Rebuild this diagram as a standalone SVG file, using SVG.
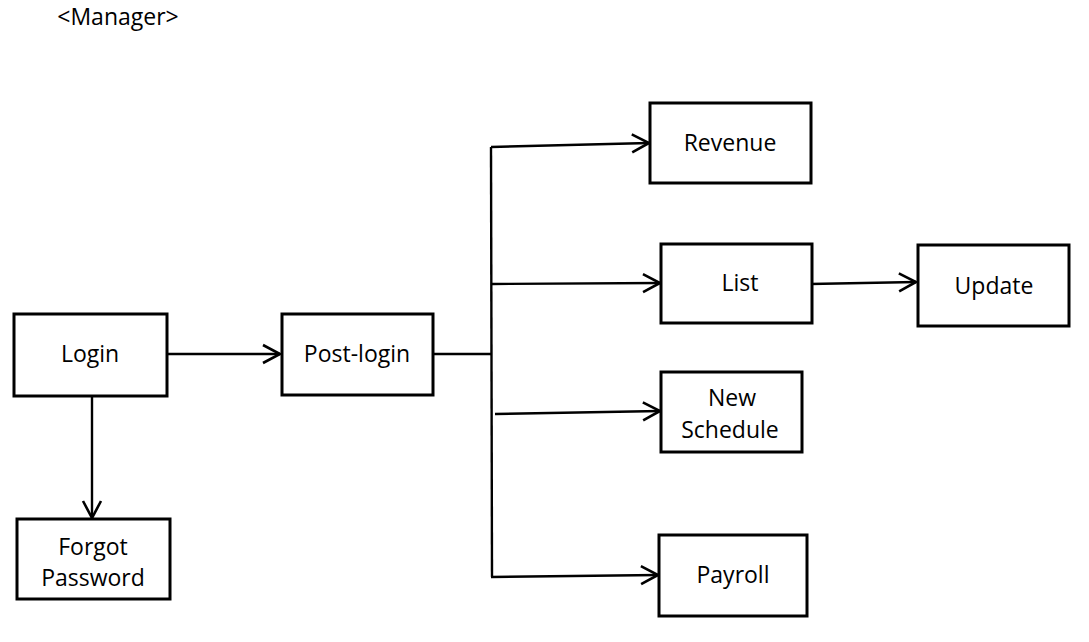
<svg xmlns="http://www.w3.org/2000/svg" width="1089" height="642" viewBox="0 0 1089 642">
<style>
.box{fill:#fff;stroke:#000;stroke-width:3}
.lbl{font-family:"Open Sans","Noto Sans","Liberation Sans",sans-serif;font-size:23px;fill:#000;text-anchor:middle}
.con{fill:none;stroke:#000;stroke-width:2.4}
.arr{marker-end:url(#open)}
</style>
<defs>
<marker id="open" markerUnits="userSpaceOnUse" markerWidth="24" markerHeight="24" viewBox="0 0 24 24" refX="20" refY="12" orient="auto">
<path d="M3,3 L20,12 L3,21" fill="none" stroke="#000" stroke-width="2.6"/>
</marker>
</defs>
<text class="lbl" x="118" y="25">&lt;Manager&gt;</text>
<g id="connectors">
<line class="con arr" x1="167" y1="354" x2="280" y2="354"/>
<line class="con arr" x1="92" y1="396" x2="92" y2="518"/>
<polyline class="con" points="433,354 491,354"/>
<line class="con" x1="491" y1="147" x2="492" y2="577"/>
<line class="con arr" x1="491" y1="147" x2="649" y2="143"/>
<line class="con arr" x1="492" y1="284" x2="660" y2="283"/>
<line class="con arr" x1="495" y1="414" x2="660" y2="411"/>
<line class="con arr" x1="491" y1="577" x2="658" y2="575"/>
<line class="con arr" x1="810" y1="284" x2="916" y2="282"/>
</g>
<g id="login"><rect class="box" x="14" y="314" width="153" height="82"/><text class="lbl" x="90" y="362">Login</text></g>
<g id="forgot"><rect class="box" x="17" y="519" width="153" height="80"/><text class="lbl" x="93" y="555">Forgot</text><text class="lbl" x="93" y="586">Password</text></g>
<g id="postlogin"><rect class="box" x="282" y="314" width="151" height="81"/><text class="lbl" x="357" y="362">Post-login</text></g>
<g id="revenue"><rect class="box" x="650" y="103" width="161" height="80"/><text class="lbl" x="730" y="151">Revenue</text></g>
<g id="list"><rect class="box" x="661" y="244" width="151" height="79"/><text class="lbl" x="740" y="291">List</text></g>
<g id="update"><rect class="box" x="918" y="245" width="151" height="81"/><text class="lbl" x="994" y="294">Update</text></g>
<g id="newschedule"><rect class="box" x="661" y="372" width="141" height="80"/><text class="lbl" x="732" y="406">New</text><text class="lbl" x="730" y="438">Schedule</text></g>
<g id="payroll"><rect class="box" x="659" y="535" width="148" height="81"/><text class="lbl" x="733" y="583">Payroll</text></g>
</svg>
